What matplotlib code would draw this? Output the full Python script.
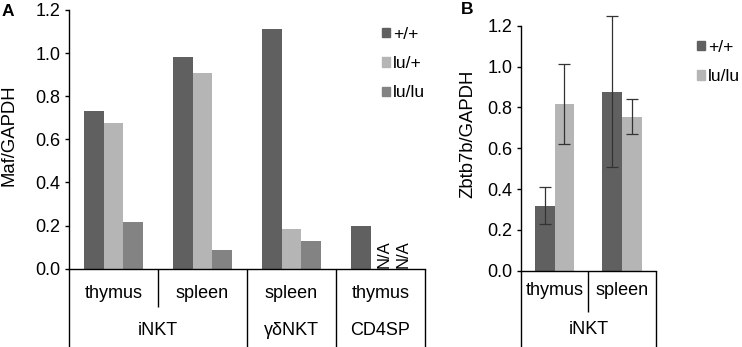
import numpy as np
import matplotlib
matplotlib.use("Agg")
import matplotlib.pyplot as plt
from matplotlib.patches import Patch
import matplotlib.transforms as mtransforms

plt.rcParams['font.family'] = ['Liberation Sans', 'DejaVu Sans']
plt.rcParams['font.size'] = 13

# panel A: Maf expression
a_tissues = ["thymus", "spleen", "spleen", "thymus"]
a_cells = ["iNKT", "γδNKT", "CD4SP"]
a_cell_span = [(0, 1), (2, 2), (3, 3)]
a_genotypes = ["+/+", "lu/+", "lu/lu"]
a_wt = [0.73, 0.98, 1.113, 0.20]
a_het = [0.676, 0.906, 0.184, np.nan]
a_hom = [0.218, 0.088, 0.13, np.nan]

# panel B: Zbtb7b expression
b_tissues = ["thymus", "spleen"]
b_cells = ["iNKT"]
b_genotypes = ["+/+", "lu/lu"]
b_wt = [0.318, 0.877]
b_wt_err = [0.09, 0.37]
b_hom = [0.818, 0.754]
b_hom_err = [0.195, 0.086]

dark = "#606060"
light = "#b5b5b5"
mid = "#838383"

W, H = 742, 347
fig = plt.figure(figsize=(W / 100, H / 100), dpi=100)
axA = fig.add_axes([69 / W, 1 - 268.7 / H, (425 - 69) / W, (268.7 - 10) / H])
axB = fig.add_axes([521 / W, 1 - 270.7 / H, (655.7 - 521) / W, (270.7 - 25.7) / H])


def style(ax, n):
    ax.set_xlim(-0.5, n - 0.5)
    ax.set_ylim(0, 1.2)
    ticks = np.arange(0, 1.21, 0.2)
    ax.set_yticks(ticks)
    ax.set_yticklabels([f"{v:.1f}" for v in ticks], fontsize=13)
    ax.set_xticks([])
    for s in ["top", "right"]:
        ax.spines[s].set_visible(False)
    for s in ["left", "bottom"]:
        ax.spines[s].set_linewidth(1.0)
    ax.tick_params(axis="y", length=3, width=1.0, pad=3)


def category_table(ax, tissues, cells, spans, y_short, y_full, y_row1, y_row2):
    tr = mtransforms.blended_transform_factory(ax.transData, ax.transAxes)
    n = len(tissues)
    full = {-0.5, n - 0.5}
    for a, b in spans:
        full.add(a - 0.5)
        full.add(b + 0.5)
    for i in range(n + 1):
        x = i - 0.5
        y_end = y_full if x in full else y_short
        ax.plot([x, x], [0, y_end], color="black", lw=1.0, transform=tr,
                clip_on=False, solid_capstyle="butt")
    for i, t in enumerate(tissues):
        ax.text(i, y_row1, t, transform=tr, ha="center", va="center", fontsize=13)
    for c, (a, b) in zip(cells, spans):
        ax.text((a + b) / 2, y_row2, c, transform=tr, ha="center", va="center", fontsize=13)


def ylabel_at(ax, text, x_px, y_frac):
    ax.set_ylabel(text, fontsize=13.3)
    tr = mtransforms.blended_transform_factory(fig.transFigure, ax.transAxes)
    ax.yaxis.set_label_coords(x_px / W, y_frac, transform=tr)


def legend_at(handles, x_px, y_px):
    fig.legend(handles=handles, loc="upper left",
               bbox_to_anchor=(x_px / W, 1 - y_px / H),
               frameon=False, borderpad=0, borderaxespad=0, handlelength=0.45,
               handleheight=0.45, handletextpad=0.2, labelspacing=0.82, fontsize=12.5)


# panel A bars
style(axA, len(a_tissues))
xa = np.arange(len(a_tissues))
wa = 0.218
axA.bar(xa - wa, a_wt, wa, color=dark)
axA.bar(xa, a_het, wa, color=light)
axA.bar(xa + wa, a_hom, wa, color=mid)
for i in range(len(a_tissues)):
    for off, v in ((0, a_het[i]), (wa, a_hom[i])):
        if np.isnan(v):
            axA.text(xa[i] + off + 0.04, 0.005, "N/A", rotation=90,
                     ha="center", va="bottom", fontsize=12)
ylabel_at(axA, "Maf/GAPDH", 18, 0.517)
category_table(axA, a_tissues, a_cells, a_cell_span,
               -0.148, -0.31, -0.094, -0.237)
legend_at([Patch(color=c, label=l) for c, l in zip([dark, light, mid], a_genotypes)], 382, 27)

# panel B bars with error bars (the spleen +/+ bar runs past the axis top)
style(axB, len(b_tissues))
xb = np.arange(len(b_tissues))
wb = 0.29
axB.bar(xb - wb / 2, b_wt, wb, color=dark)
axB.bar(xb + wb / 2, b_hom, wb, color=light)
for xs, ys, es in ((xb - wb / 2, b_wt, b_wt_err), (xb + wb / 2, b_hom, b_hom_err)):
    axB.errorbar(xs, ys, yerr=es, fmt="none", ecolor="#333333", elinewidth=0.9,
                 capsize=4.5, capthick=0.9, clip_on=False)
ylabel_at(axB, "Zbtb7b/GAPDH", 476, 0.56)
category_table(axB, b_tissues, b_cells, [(0, 1)],
               -0.167, -0.32, -0.082, -0.242)
legend_at([Patch(color=c, label=l) for c, l in zip([dark, light], b_genotypes)], 697, 40)

fig.text(2 / W, 1 - 12 / H, "A", fontsize=12.5, fontweight="bold", va="center")
fig.text(461 / W, 1 - 10 / H, "B", fontsize=12.5, fontweight="bold", va="center")

fig.savefig("out.png", dpi=100)
